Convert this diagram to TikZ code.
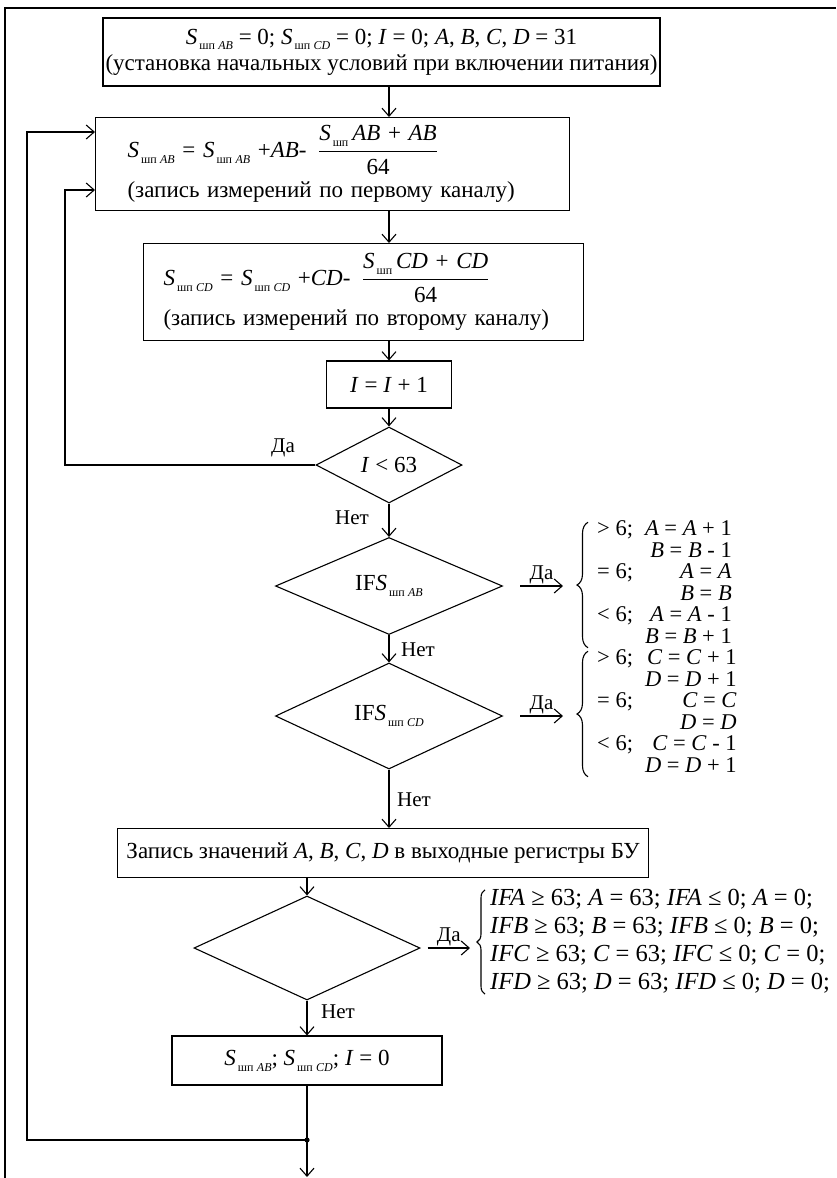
\documentclass[tikz,border=0pt]{standalone}
\usepackage{fontspec}
\setmainfont{Liberation Serif}
\usetikzlibrary{arrows.meta,shapes.geometric,decorations.pathreplacing}
\newcommand{\iv}[1]{\textit{#1}}
\newcommand{\Ssub}[1]{\textit{S}\raisebox{-0.55ex}{\fontsize{12}{12}\selectfont\,шп\;\textit{#1}}}
\newcommand{\Sshp}{\textit{S}\raisebox{-0.55ex}{\fontsize{12}{12}\selectfont\,шп}}
\newcommand{\fr}[2]{$\displaystyle\frac{\mbox{#1}}{\mbox{#2}}$}
\begin{document}
\begin{tikzpicture}[x=1pt,y=-1pt,
  every node/.style={font=\fontsize{23}{26}\selectfont, inner sep=0pt},
  box/.style={draw, line width=1.1pt, rectangle},
  dia/.style={draw, line width=1.1pt, diamond},
  ln/.style={line width=1.1pt},
  arr/.style={line width=1.1pt, -{Straight Barb[length=8pt,width=14pt,line width=1.1pt]}},
  lbl/.style={font=\fontsize{21}{24}\selectfont},
  brtxt/.style={anchor=west, font=\fontsize{22.5}{21.5}\selectfont},
  curly/.style={line width=1.1pt, decorate, decoration={brace, amplitude=#1}}]
\useasboundingbox (0,0) rectangle (836,1178);
% page frame
\draw[ln] (5,1178) -- (5,8) -- (836,8);
% boxes
\node[box, minimum width=557, minimum height=68, align=center] (b1) at (381.5,52)
  {\Ssub{AB} = 0; \Ssub{CD} = 0; \iv{I} = 0; \iv{A}, \iv{B}, \iv{C}, \iv{D} = 31\\(установка начальных условий при включении питания)};
\node[box, anchor=north west, text width=410, inner xsep=32, minimum height=93, align=left] (b2) at (95,117)
  {\Ssub{AB} = \Ssub{AB} +\iv{AB}-\, \fr{\Sshp\,\iv{AB} + \iv{AB}}{64}\\[6pt](запись измерений по первому каналу)};
\node[box, anchor=north west, text width=400, inner xsep=20, minimum height=97, align=left] (b3) at (143,243)
  {\Ssub{CD} = \Ssub{CD} +\iv{CD}-\, \fr{\Sshp\,\iv{CD} + \iv{CD}}{64}\\[6pt](запись измерений по второму каналу)};
\node[box, minimum width=125, minimum height=47] (b4) at (389,384.5) {\iv{I} = \iv{I} + 1};
\node[dia, minimum width=146, minimum height=76] (d1) at (389,465) {\iv{I} < 63};
\node[dia, minimum width=227, minimum height=97] (d2) at (389,586) {IF\Ssub{AB}};
\node[dia, minimum width=227, minimum height=106] (d3) at (389,716) {IF\Ssub{CD}};
\node[box, anchor=north west, minimum width=531, minimum height=49] (b5) at (117,828)
  {Запись значений \iv{A}, \iv{B}, \iv{C}, \iv{D} в выходные регистры БУ};
\node[dia, minimum width=226, minimum height=104] (d4) at (307,948) {};
\node[box, minimum width=270, minimum height=49] (b6) at (307,1060.5) {\Ssub{AB}; \Ssub{CD}; \iv{I} = 0};
% brace texts
\node[brtxt] (br1) at (597,585)
  {\begin{tabular}{@{}l@{\hspace{12pt}}r@{}}
   > 6; & \iv{A} = \iv{A} + 1\\
        & \iv{B} = \iv{B} - 1\\
   = 6; & \iv{A} = \iv{A}\\
        & \iv{B} = \iv{B}\\
   < 6; & \iv{A} = \iv{A} - 1\\
        & \iv{B} = \iv{B} + 1
   \end{tabular}};
\node[brtxt] (br2) at (597,714)
  {\begin{tabular}{@{}l@{\hspace{12pt}}r@{}}
   > 6; & \iv{C} = \iv{C} + 1\\
        & \iv{D} = \iv{D} + 1\\
   = 6; & \iv{C} = \iv{C}\\
        & \iv{D} = \iv{D}\\
   < 6; & \iv{C} = \iv{C} - 1\\
        & \iv{D} = \iv{D} + 1
   \end{tabular}};
\node[anchor=west, font=\fontsize{24.5}{28}\selectfont] (br3) at (490,942)
  {\begin{tabular}{@{}l@{}}
   \iv{IFA} ≥ 63; \iv{A} = 63; \iv{IFA} ≤ 0; \iv{A} = 0;\\
   \iv{IFB} ≥ 63; \iv{B} = 63; \iv{IFB} ≤ 0; \iv{B} = 0;\\
   \iv{IFC} ≥ 63; \iv{C} = 63; \iv{IFC} ≤ 0; \iv{C} = 0;\\
   \iv{IFD} ≥ 63; \iv{D} = 63; \iv{IFD} ≤ 0; \iv{D} = 0;
   \end{tabular}};
% braces
\draw[curly=11pt] ([xshift=-9pt,yshift=2pt]br1.south west) -- ([xshift=-9pt,yshift=-2pt]br1.north west);
\draw[curly=11pt] ([xshift=-9pt,yshift=2pt]br2.south west) -- ([xshift=-9pt,yshift=-2pt]br2.north west);
\draw[curly=8pt] ([xshift=-5pt,yshift=4pt]br3.south west) -- ([xshift=-5pt,yshift=-4pt]br3.north west);
% main flow
\draw[arr] (b1.south -| d1.north) -- (b2.north -| d1.north);
\draw[arr] (b2.south -| d1.north) -- (b3.north -| d1.north);
\draw[arr] (b3.south -| b4.north) -- (b4.north);
\draw[arr] (b4.south) -- (d1.north);
\draw[arr] (d1.south) -- (d2.north);
\draw[arr] (d2.south) -- (d3.north);
\draw[arr] (d3.south) -- (d3.south |- b5.north);
\draw[arr] (b5.south -| d4.north) -- (d4.north);
\draw[arr] (d4.south) -- (b6.north);
\coordinate (j) at (307,1140);
\coordinate (e) at (307,1177);
\draw[ln] (b6.south) -- (j);
\fill (j) circle (2.6);
\draw[arr] (j) -- (e);
% loops
\coordinate (l1) at (27,1140);
\coordinate (l2) at (27,132);
\draw[arr] (j) -- (l1) -- (l2) -- (l2 -| b2.west);
\coordinate (m1) at (65,465);
\coordinate (m2) at (65,190);
\draw[arr] (d1.west) -- (m1) -- (m2) -- (m2 -| b2.west);
% yes branches
\draw[arr] ([xshift=17pt]d2.east) -- ([xshift=-34pt]br1.west |- d2.east) node[lbl, midway, above=1pt] (y2) {Да};
\draw[arr] ([xshift=17pt]d3.east) -- ([xshift=-34pt]br2.west |- d3.east) node[lbl, midway, above=1pt] (y3) {Да};
\draw[arr] ([xshift=7pt]d4.east) -- ([xshift=-20pt]br3.west |- d4.east) node[lbl, midway, above=1pt] (y4) {Да};
% labels
\node[lbl] (y1) at (283,448) {Да};
\node[lbl] (n1) at (352,518) {Нет};
\node[lbl] (n2) at (418,650) {Нет};
\node[lbl] (n3) at (414,800) {Нет};
\node[lbl] (n4) at (338,1012) {Нет};
\end{tikzpicture}
\end{document}
